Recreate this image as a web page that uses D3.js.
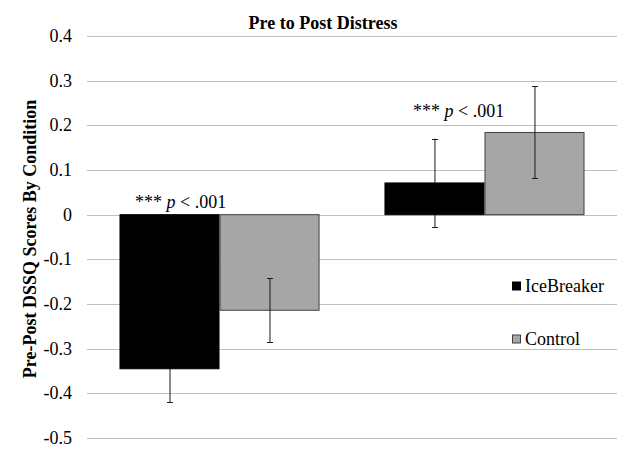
<!DOCTYPE html>
<html>
<head>
<meta charset="utf-8">
<script src="https://cdn.jsdelivr.net/npm/d3@7"></script>
<style>
  html, body { margin: 0; padding: 0; background: #fff; }
</style>
</head>
<body>
<svg id="chart" width="622" height="451"></svg>
<script>
const categories = ["Group A", "Group B"];
const seriesNames = ["IceBreaker", "Control"];
const iceBreakerValues = [-0.345, 0.071];
const controlValues = [-0.214, 0.184];
const iceBreakerErrors = [0.075, 0.099];
const controlErrors = [0.072, 0.103];
const yTicks = [0.4, 0.3, 0.2, 0.1, 0, -0.1, -0.2, -0.3, -0.4, -0.5];
const annotations = ["*** p < .001", "*** p < .001"];
const titleText = "Pre to Post Distress";
const yLabelText = "Pre-Post DSSQ Scores By Condition";

const colors = ["#000000", "#a6a6a6"];
const strokes = ["#000000", "#404040"];
const FONT = "Liberation Serif";

const svg = d3.select("#chart");

const y = d3.scaleLinear().domain([-0.5, 0.4]).range([438, 36]);
const x0 = d3.scaleBand().domain(categories).range([87, 617]).paddingInner(0.245).paddingOuter(0.1226);
const x1 = d3.scaleBand().domain(seriesNames).range([0, x0.bandwidth()]).padding(0);

// Gridlines
svg.append("g").selectAll("line").data(yTicks).join("line")
  .attr("x1", 87).attr("x2", 617)
  .attr("y1", d => Math.round(y(d)) + 0.5).attr("y2", d => Math.round(y(d)) + 0.5)
  .attr("stroke", "#bfbfbf").attr("stroke-width", 1);

// Y tick labels
svg.append("g").selectAll("text").data(yTicks).join("text")
  .attr("x", 72).attr("y", d => y(d) + 6)
  .attr("text-anchor", "end").attr("font-size", 18).attr("fill", "#000")
  .attr("font-family", FONT)
  .text(d => d === 0 ? "0" : d3.format(".1f")(d).replace("\u2212", "-"));

const data = categories.map((c, i) => ({
  cat: c,
  vals: [
    { s: seriesNames[0], v: iceBreakerValues[i], e: iceBreakerErrors[i], k: 0 },
    { s: seriesNames[1], v: controlValues[i], e: controlErrors[i], k: 1 }
  ]
}));

const groups = svg.append("g").selectAll("g").data(data).join("g")
  .attr("transform", d => `translate(${x0(d.cat)},0)`);

const ebColor = "#1a1a1a";
function drawErrorBars(sel, k) {
  const eb = sel.selectAll("g.eb" + k).data(d => d.vals.filter(v => v.k === k)).join("g").attr("class", "eb" + k);
  eb.append("line")
    .attr("x1", d => Math.round(x1(d.s) + x1.bandwidth() / 2) + 0.5)
    .attr("x2", d => Math.round(x1(d.s) + x1.bandwidth() / 2) + 0.5)
    .attr("y1", d => y(d.v + d.e)).attr("y2", d => y(d.v - d.e))
    .attr("stroke", ebColor).attr("stroke-width", 1);
  [1, -1].forEach(sgn => {
    eb.append("line")
      .attr("x1", d => Math.round(x1(d.s) + x1.bandwidth() / 2) - 2.5)
      .attr("x2", d => Math.round(x1(d.s) + x1.bandwidth() / 2) + 3.5)
      .attr("y1", d => Math.round(y(d.v + sgn * d.e)) + 0.5)
      .attr("y2", d => Math.round(y(d.v + sgn * d.e)) + 0.5)
      .attr("stroke", ebColor).attr("stroke-width", 1);
  });
}

// IceBreaker error bars sit behind the bars (hidden inside the black bar)
drawErrorBars(groups, 0);

groups.selectAll("rect").data(d => d.vals).join("rect")
  .attr("x", d => x1(d.s) + 0.5)
  .attr("width", x1.bandwidth() - 1)
  .attr("y", d => Math.min(y(d.v), y(0)))
  .attr("height", d => Math.abs(y(d.v) - y(0)))
  .attr("fill", d => colors[d.k])
  .attr("stroke", d => strokes[d.k]).attr("stroke-width", 1);

drawErrorBars(groups, 1);

// Annotations
const annOffsets = [[-84.5, -7], [-71.5, -98]];
annotations.forEach((t, i) => {
  const cx = x0(categories[i]) + x0.bandwidth() / 2;
  const parts = t.split("p");
  const txt = svg.append("text")
    .attr("x", cx + annOffsets[i][0]).attr("y", y(0) + annOffsets[i][1])
    .attr("font-size", 18).attr("fill", "#000").attr("font-family", FONT);
  txt.append("tspan").text(parts[0]);
  txt.append("tspan").attr("font-style", "italic").text("p");
  txt.append("tspan").text(parts[1]);
});

// Title
svg.append("text").attr("x", 323).attr("y", 29)
  .attr("text-anchor", "middle").attr("font-size", 18).attr("font-weight", "bold")
  .attr("font-family", FONT)
  .text(titleText);

// Y axis label
svg.append("text")
  .attr("transform", "translate(36,239) rotate(-90)")
  .attr("text-anchor", "middle").attr("font-size", 18).attr("font-weight", "bold")
  .attr("font-family", FONT)
  .text(yLabelText);

// Legend
const legendY = [286, 339];
seriesNames.forEach((s, i) => {
  svg.append("rect").attr("x", 512.5).attr("y", legendY[i] - 4)
    .attr("width", 8).attr("height", 8)
    .attr("fill", colors[i]).attr("stroke", strokes[i]).attr("stroke-width", 1);
  svg.append("text").attr("x", 525).attr("y", legendY[i] + 5.5)
    .attr("font-size", 18).attr("fill", "#000").attr("font-family", FONT).text(s);
});
</script>
</body>
</html>
